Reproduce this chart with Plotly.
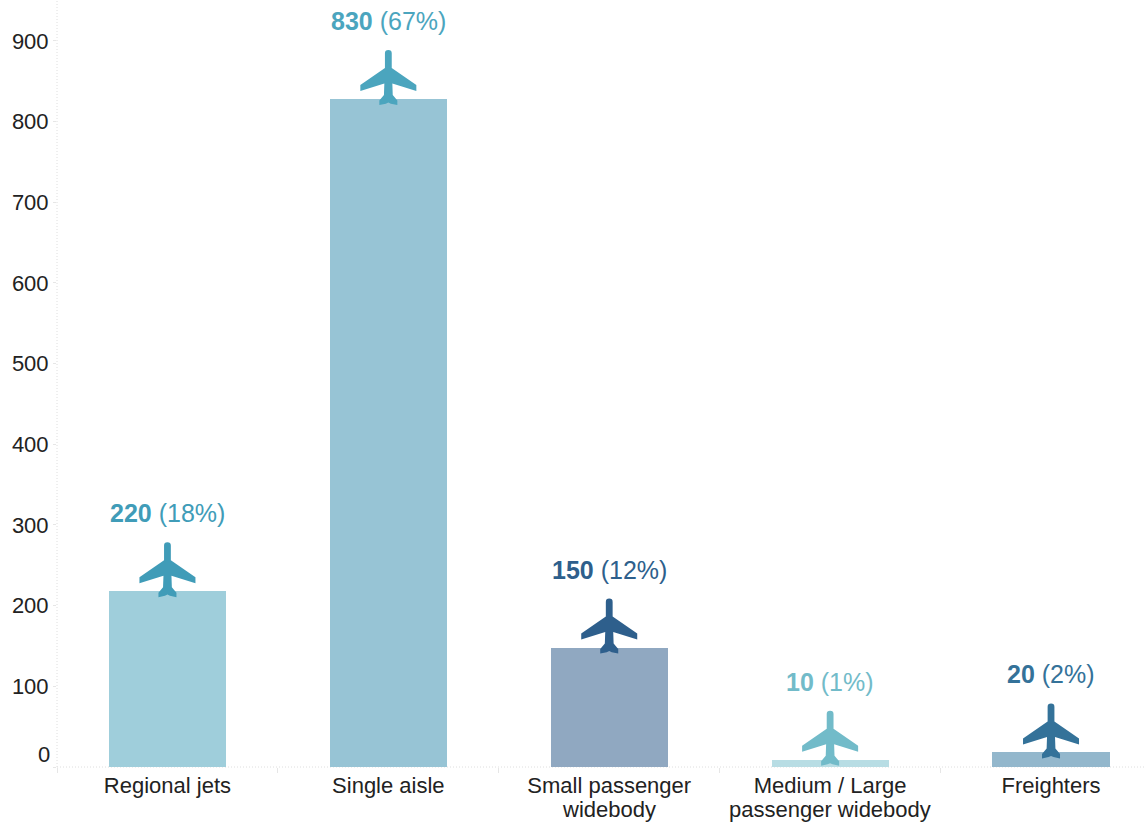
import plotly.graph_objects as go

categories = ["Regional jets", "Single aisle", "Small passenger widebody",
              "Medium / Large passenger widebody", "Freighters"]
first_lines = ["Regional jets", "Single aisle", "Small passenger", "Medium / Large", "Freighters"]
second_lines = ["", "", "widebody", "passenger widebody", ""]
bar_values = [218, 828, 148, 9, 18]
label_counts = ["220", "830", "150", "10", "20"]
label_shares = ["(18%)", "(67%)", "(12%)", "(1%)", "(2%)"]
bar_colors = ["#9FCEDB", "#97C4D5", "#90A8C1", "#B8DDE4", "#93B7CC"]
plane_colors = ["#409CB8", "#4BA5BE", "#2E5F8C", "#72BBC9", "#347299"]
y_ticks = [0, 100, 200, 300, 400, 500, 600, 700, 800, 900]
y_tick_text = ["", "100", "200", "300", "400", "500", "600", "700", "800", "900"]

FONT = "Liberation Sans, Arial, sans-serif"
GRID = "#dedede"
INK = "#222222"

# Plane glyph, in pixels relative to the top-centre of its bar (y up)
half_plane = [(3.4, 45.7), (3.4, 31), (28, 14), (28, 8), (4, 15.5), (4.4, 4), (9, -1.5), (9, -6), (2.5, -4.6), (0, -3.4)]
right = " ".join(f"L{x},{y}" for x, y in half_plane[1:])
left = " ".join(f"L{-x},{y}" for x, y in reversed(half_plane[1:-1]))
PLANE_PATH = f"M3.4,45.7 {right} {left} L-3.4,45.7 Q-3.4,49 0,49 Q3.4,49 3.4,45.7 Z"

fig = go.Figure(go.Bar(x=categories, y=bar_values, marker=dict(color=bar_colors, line_width=0),
                       width=0.53, hoverinfo="skip"))

shapes = [
    dict(type="line", xref="paper", yref="paper", x0=0, x1=0, y0=0, y1=1,
         line=dict(color=GRID, width=1, dash="1px,2px"), layer="below"),
    dict(type="line", xref="paper", yref="paper", x0=0, x1=1, y0=0, y1=0,
         line=dict(color=GRID, width=1, dash="1px,2px"), layer="below"),
]
annotations = []
for cat, val, count, share, col, second in zip(categories, bar_values, label_counts, label_shares,
                                               plane_colors, second_lines):
    shapes.append(dict(type="path", xsizemode="pixel", ysizemode="pixel", xanchor=cat, yanchor=val,
                       xref="x", yref="y", path=PLANE_PATH, fillcolor=col, line_width=0, layer="above"))
    annotations.append(dict(x=cat, y=val, xref="x", yref="y", yshift=78, showarrow=False,
                            text=f"<b>{count}</b> {share}", yanchor="middle",
                            font=dict(family=FONT, size=25, color=col)))
    if second:
        annotations.append(dict(x=cat, y=0, xref="x", yref="y", yshift=-42, showarrow=False,
                                text=second, yanchor="middle",
                                font=dict(family=FONT, size=22, color=INK)))
annotations.append(dict(x=0, y=0, xref="paper", yref="y", xanchor="right", xshift=-5, yshift=13,
                        showarrow=False, text="0", font=dict(family=FONT, size=22, color=INK)))

fig.update_layout(
    width=1146, height=825, margin=dict(l=57, r=0, t=0, b=58),
    paper_bgcolor="white", plot_bgcolor="white", showlegend=False, bargap=0,
    shapes=shapes, annotations=annotations,
    font=dict(family=FONT, color=INK),
    xaxis=dict(type="category", categoryorder="array", categoryarray=categories,
               range=[-0.5, 4.43], showgrid=False, zeroline=False, showline=False,
               tickmode="array", tickvals=categories, ticktext=first_lines,
               tickson="boundaries", ticks="outside", ticklen=5, tickcolor="#e6e6e6", tickwidth=1,
               ticklabelstandoff=3,
               tickfont=dict(family=FONT, size=22, color=INK), tickangle=0),
    yaxis=dict(range=[0, 950.8], showgrid=False, zeroline=False, showline=False,
               tickvals=y_ticks, ticktext=y_tick_text, ticks="outside", ticklen=3,
               tickcolor="#e6e6e6", tickwidth=1,
               tickfont=dict(family=FONT, size=22, color=INK)),
)

fig.write_html("out.html", config=dict(displayModeBar=False),
               post_script="document.body.style.margin='0';document.documentElement.style.overflow='hidden';")
